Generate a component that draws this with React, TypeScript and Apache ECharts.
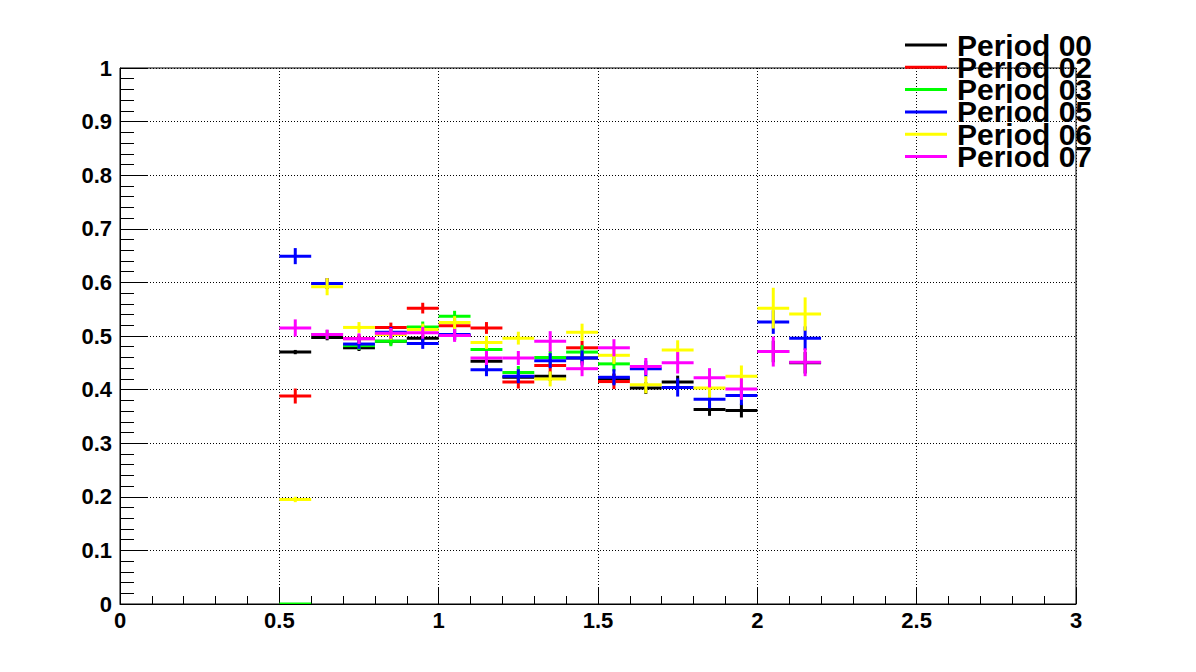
import React, { useEffect, useRef } from "react";
import * as echarts from "echarts";

// Bin centres (bin width 0.1)
const binCenters = [0.55, 0.65, 0.75, 0.85, 0.95, 1.05, 1.15, 1.25, 1.35, 1.45, 1.55, 1.65, 1.75, 1.85, 1.95, 2.05, 2.15];
const binHalfWidth = 0.05;

const seriesNames = ["Period 00", "Period 02", "Period 03", "Period 05", "Period 06", "Period 07"];
const seriesColors = ["#000000", "#ff0000", "#00ff00", "#0000ff", "#ffff00", "#ff00ff"];

const period00 = [0.470, 0.497, 0.478, 0.490, 0.496, 0.501, 0.453, 0.423, 0.425, 0.459, 0.420, 0.403, 0.414, 0.363, 0.361, 0.471, 0.450];
const period00Err = [0.004, 0.005, 0.006, 0.006, 0.007, 0.008, 0.008, 0.009, 0.009, 0.010, 0.010, 0.011, 0.012, 0.012, 0.013, 0.020, 0.020];

const period02 = [0.388, 0.598, 0.495, 0.516, 0.552, 0.519, 0.515, 0.414, 0.445, 0.478, 0.415, null, null, null, null, null, null];
const period02Err = [0.014, 0.010, 0.008, 0.009, 0.010, 0.010, 0.011, 0.012, 0.012, 0.013, 0.014, 0, 0, 0, 0, 0, 0];

const period03 = [0.0, 0.503, 0.482, 0.490, 0.517, 0.537, 0.475, 0.432, 0.460, 0.470, 0.448, null, null, null, null, null, null];
const period03Err = [0.0, 0.008, 0.008, 0.009, 0.010, 0.010, 0.011, 0.012, 0.012, 0.013, 0.014, 0, 0, 0, 0, 0, 0];

const period05 = [0.649, 0.598, 0.485, 0.507, 0.486, 0.503, 0.437, 0.425, 0.454, 0.459, 0.423, 0.439, 0.404, 0.382, 0.389, 0.526, 0.496];
const period05Err = [0.015, 0.010, 0.009, 0.010, 0.010, 0.011, 0.012, 0.013, 0.014, 0.014, 0.015, 0.015, 0.017, 0.017, 0.018, 0.022, 0.022];

const period06 = [0.195, 0.592, 0.516, 0.503, 0.512, 0.525, 0.488, 0.496, 0.420, 0.507, 0.464, 0.409, 0.474, 0.403, 0.425, 0.552, 0.541];
const period06Err = [0.005, 0.016, 0.010, 0.010, 0.011, 0.012, 0.012, 0.012, 0.014, 0.016, 0.016, 0.016, 0.018, 0.018, 0.020, 0.038, 0.031];

const period07 = [0.515, 0.503, 0.495, 0.505, 0.506, 0.501, 0.459, 0.459, 0.490, 0.439, 0.478, 0.443, 0.450, 0.422, 0.401, 0.471, 0.451];
const period07Err = [0.016, 0.009, 0.010, 0.010, 0.011, 0.012, 0.013, 0.013, 0.019, 0.014, 0.016, 0.016, 0.020, 0.018, 0.020, 0.028, 0.026];

const allValues = [period00, period02, period03, period05, period06, period07];
const allErrors = [period00Err, period02Err, period03Err, period05Err, period06Err, period07Err];

const FONT = "'Liberation Sans', Arial, Helvetica, sans-serif";

export default function App() {
  const ref = useRef<HTMLDivElement>(null);

  useEffect(() => {
    if (!ref.current) return;
    const chart = echarts.init(ref.current, null, { renderer: "svg" });

    const series = seriesNames.map((name, si) => {
      const data: any[] = [];
      binCenters.forEach((x, i) => {
        const v = allValues[si][i];
        if (v === null || v === undefined) return;
        data.push([x, v, allErrors[si][i]]);
      });
      return {
        type: "custom",
        name,
        data,
        encode: { x: 0, y: 1 },
        clip: true,
        renderItem: (params: any, api: any) => {
          const x = api.value(0);
          const y = api.value(1);
          const e = api.value(2);
          const pL = api.coord([x - binHalfWidth, y]);
          const pR = api.coord([x + binHalfWidth, y]);
          const pB = api.coord([x, y - e]);
          const pT = api.coord([x, y + e]);
          const style = { stroke: seriesColors[si], lineWidth: 3 };
          return {
            type: "group",
            children: [
              { type: "line", shape: { x1: pL[0], y1: pL[1], x2: pR[0], y2: pR[1] }, style },
              { type: "line", shape: { x1: pB[0], y1: pB[1], x2: pT[0], y2: pT[1] }, style },
            ],
          };
        },
      };
    });

    const legendGraphics: any[] = [];
    seriesNames.forEach((name, i) => {
      const y = 45 + i * 22.3;
      legendGraphics.push({
        type: "line",
        shape: { x1: 905, y1: y, x2: 947, y2: y },
        style: { stroke: seriesColors[i], lineWidth: 3 },
        z: 100,
      });
      legendGraphics.push({
        type: "text",
        x: 957,
        y: y,
        style: {
          text: name,
          fill: "#000",
          font: `bold 30px ${FONT}`,
          textVerticalAlign: "middle",
          verticalAlign: "middle",
        },
        z: 100,
      });
    });

    chart.setOption({
      animation: false,
      backgroundColor: "#ffffff",
      grid: {
        left: 120,
        top: 68,
        width: 956,
        height: 536,
        show: true,
        borderColor: "#000",
        borderWidth: 1,
        backgroundColor: "transparent",
      },
      xAxis: {
        type: "value",
        min: 0,
        max: 3,
        interval: 0.5,
        axisLine: { show: true, onZero: false, lineStyle: { color: "#000", width: 1 } },
        axisTick: { show: true, inside: true, length: 16, lineStyle: { color: "#000" } },
        minorTick: { show: true, splitNumber: 5, length: 8, lineStyle: { color: "#000" } },
        axisLabel: {
          color: "#000",
          fontWeight: "bold",
          fontSize: 22,
          fontFamily: FONT,
          margin: 5,
          showMinLabel: true,
          showMaxLabel: true,
        },
        splitLine: { show: true, lineStyle: { color: "#000", type: [1, 2], width: 1 } },
      },
      yAxis: {
        type: "value",
        min: 0,
        max: 1,
        interval: 0.1,
        axisLine: { show: true, onZero: false, lineStyle: { color: "#000", width: 1 } },
        axisTick: { show: true, inside: true, length: 28, lineStyle: { color: "#000" } },
        minorTick: { show: true, splitNumber: 5, length: 14, lineStyle: { color: "#000" } },
        axisLabel: {
          color: "#000",
          fontWeight: "bold",
          fontSize: 22,
          fontFamily: FONT,
          margin: 8,
        },
        splitLine: { show: true, lineStyle: { color: "#000", type: [1, 2], width: 1 } },
      },
      series,
      graphic: legendGraphics,
    });

    return () => chart.dispose();
  }, []);

  return (
    <div
      ref={ref}
      style={{ position: "fixed", left: 0, top: 0, width: 1196, height: 672, background: "#fff" }}
    />
  );
}
